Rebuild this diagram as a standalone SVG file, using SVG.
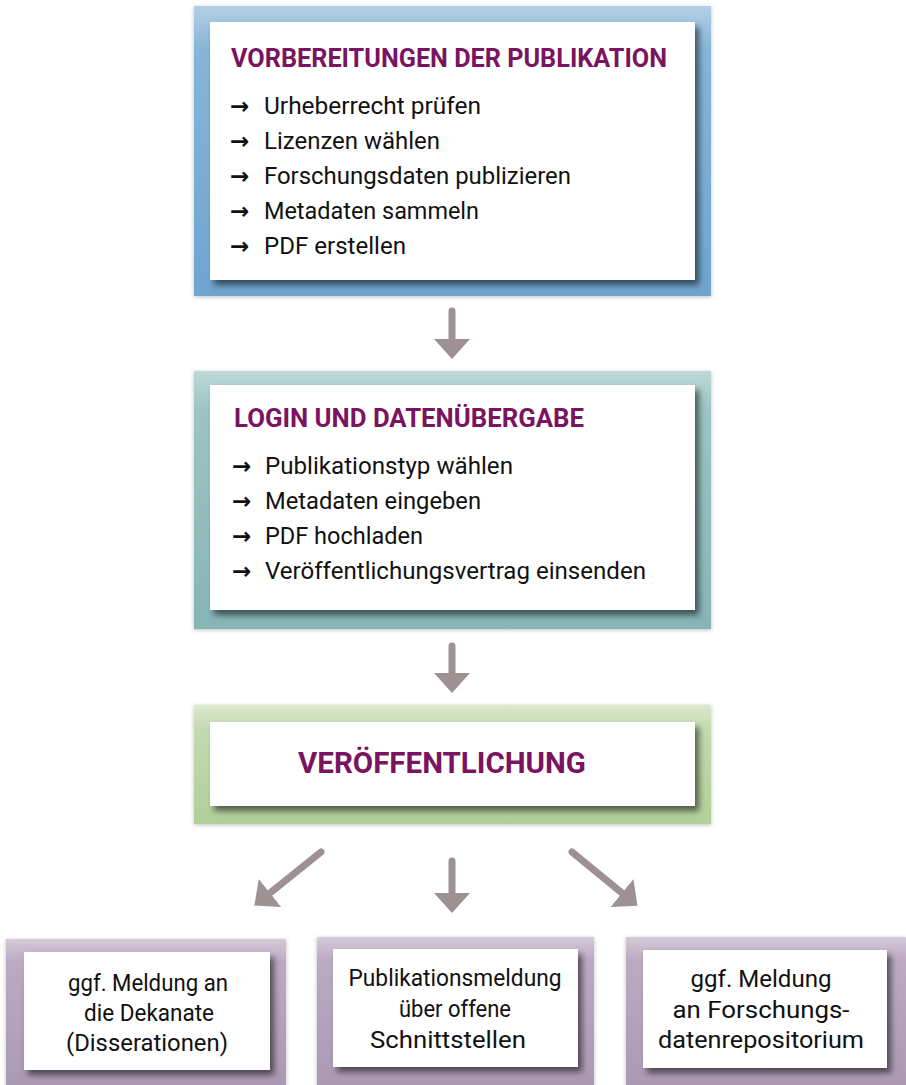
<svg xmlns="http://www.w3.org/2000/svg" width="906" height="1085" viewBox="0 0 906 1085">
<style>
.title{font-family:Roboto,"Liberation Sans",sans-serif;font-weight:700;fill:#7a1360;}
.item{font-family:Roboto,"Liberation Sans",sans-serif;font-size:23.5px;fill:#111;}
.bul{font-family:"DejaVu Sans",sans-serif;font-weight:700;font-size:23px;fill:#111;}
.small{font-family:Roboto,"Liberation Sans",sans-serif;font-size:23px;fill:#111;text-anchor:middle;}
.inner{fill:#fff;filter:url(#sh);}
.conn{stroke:#9d9194;stroke-width:7;fill:none;stroke-linecap:round;marker-end:url(#head);}
</style>
<defs>
<filter id="sh" x="-10%" y="-10%" width="125%" height="130%">
<feDropShadow dx="4" dy="5" stdDeviation="3" flood-color="#000" flood-opacity="0.55"/>
</filter>
<filter id="osh" x="-5%" y="-5%" width="110%" height="115%">
<feDropShadow dx="0" dy="1" stdDeviation="2" flood-color="#000" flood-opacity="0.25"/>
</filter>
<linearGradient id="gBlue" x1="0" y1="0" x2="0" y2="1">
<stop offset="0" stop-color="#b3d0e6"/><stop offset="0.15" stop-color="#86b5d8"/><stop offset="1" stop-color="#6fa5cf"/>
</linearGradient>
<linearGradient id="gTeal" x1="0" y1="0" x2="0" y2="1">
<stop offset="0" stop-color="#bfd8d8"/><stop offset="0.15" stop-color="#9cc4c4"/><stop offset="1" stop-color="#86b5b6"/>
</linearGradient>
<linearGradient id="gGreen" x1="0" y1="0" x2="0" y2="1">
<stop offset="0" stop-color="#dbe9cd"/><stop offset="0.2" stop-color="#c3dab0"/><stop offset="1" stop-color="#b1cf98"/>
</linearGradient>
<linearGradient id="gPurple" x1="0" y1="0" x2="0" y2="1">
<stop offset="0" stop-color="#d6cad9"/><stop offset="0.15" stop-color="#bcaac3"/><stop offset="1" stop-color="#ab98b3"/>
</linearGradient>
<marker id="head" markerUnits="userSpaceOnUse" markerWidth="20" markerHeight="36" viewBox="0 0 20 36" refX="0" refY="18" orient="auto">
<path d="M0,0 L20,18 L0,36 z" fill="#9d9194"/>
</marker>
</defs>

<g id="connectors">
<line class="conn" x1="452" y1="311" x2="452" y2="339"/>
<line class="conn" x1="452" y1="646" x2="452" y2="673"/>
<line class="conn" x1="452" y1="861" x2="452" y2="893"/>
<line class="conn" x1="321" y1="852" x2="270" y2="893"/>
<line class="conn" x1="572" y1="852" x2="622" y2="893"/>
</g>

<g id="node-vorbereitung">
<rect x="194" y="6" width="517" height="290" fill="url(#gBlue)" filter="url(#osh)"/>
<rect class="inner" x="210" y="22" width="485" height="258"/>
<text class="title" x="231" y="67" font-size="25" textLength="436" lengthAdjust="spacingAndGlyphs">VORBEREITUNGEN DER PUBLIKATION</text>
<text class="bul" x="230" y="114">→</text><text class="item" x="264" y="114" textLength="217" lengthAdjust="spacingAndGlyphs">Urheberrecht prüfen</text>
<text class="bul" x="230" y="149">→</text><text class="item" x="264" y="149" textLength="176" lengthAdjust="spacingAndGlyphs">Lizenzen wählen</text>
<text class="bul" x="230" y="184">→</text><text class="item" x="264" y="184" textLength="307" lengthAdjust="spacingAndGlyphs">Forschungsdaten publizieren</text>
<text class="bul" x="230" y="219">→</text><text class="item" x="264" y="219" textLength="215" lengthAdjust="spacingAndGlyphs">Metadaten sammeln</text>
<text class="bul" x="230" y="254">→</text><text class="item" x="264" y="254" textLength="142" lengthAdjust="spacingAndGlyphs">PDF erstellen</text>
</g>

<g id="node-login">
<rect x="194" y="371" width="517" height="258" fill="url(#gTeal)" filter="url(#osh)"/>
<rect class="inner" x="210" y="385" width="485" height="225"/>
<text class="title" x="234" y="427" font-size="25" textLength="350" lengthAdjust="spacingAndGlyphs">LOGIN UND DATENÜBERGABE</text>
<text class="bul" x="232" y="474">→</text><text class="item" x="265" y="474" textLength="248" lengthAdjust="spacingAndGlyphs">Publikationstyp wählen</text>
<text class="bul" x="232" y="509">→</text><text class="item" x="265" y="509" textLength="216" lengthAdjust="spacingAndGlyphs">Metadaten eingeben</text>
<text class="bul" x="232" y="544">→</text><text class="item" x="265" y="544" textLength="158" lengthAdjust="spacingAndGlyphs">PDF hochladen</text>
<text class="bul" x="232" y="579">→</text><text class="item" x="265" y="579" textLength="381" lengthAdjust="spacingAndGlyphs">Veröffentlichungsvertrag einsenden</text>
</g>

<g id="node-veroeffentlichung">
<rect x="194" y="705" width="517" height="119" fill="url(#gGreen)" filter="url(#osh)"/>
<rect class="inner" x="210" y="722" width="485" height="84"/>
<text class="title" x="298" y="773" font-size="30" textLength="288" lengthAdjust="spacingAndGlyphs">VERÖFFENTLICHUNG</text>
</g>

<g id="node-dekanate">
<rect x="6" y="939" width="280" height="150" fill="url(#gPurple)" filter="url(#osh)"/>
<rect class="inner" x="24" y="952" width="246" height="118"/>
<text class="small" x="148" y="991" textLength="160" lengthAdjust="spacingAndGlyphs">ggf. Meldung an</text>
<text class="small" x="149" y="1021" textLength="130" lengthAdjust="spacingAndGlyphs">die Dekanate</text>
<text class="small" x="147" y="1051" textLength="162" lengthAdjust="spacingAndGlyphs">(Disserationen)</text>
</g>

<g id="node-schnittstellen">
<rect x="317" y="937" width="277" height="152" fill="url(#gPurple)" filter="url(#osh)"/>
<rect class="inner" x="333" y="949" width="245" height="118"/>
<text class="small" x="455" y="986" textLength="213" lengthAdjust="spacingAndGlyphs">Publikationsmeldung</text>
<text class="small" x="455" y="1017" textLength="112" lengthAdjust="spacingAndGlyphs">über offene</text>
<text class="small" x="448" y="1048" textLength="156" lengthAdjust="spacingAndGlyphs">Schnittstellen</text>
</g>

<g id="node-forschungsdaten">
<rect x="626" y="937" width="280" height="152" fill="url(#gPurple)" filter="url(#osh)"/>
<rect class="inner" x="643" y="950" width="244" height="118"/>
<text class="small" x="761" y="987" textLength="141" lengthAdjust="spacingAndGlyphs">ggf. Meldung</text>
<text class="small" x="761" y="1018" textLength="177" lengthAdjust="spacingAndGlyphs">an Forschungs-</text>
<text class="small" x="761" y="1048" textLength="206" lengthAdjust="spacingAndGlyphs">datenrepositorium</text>
</g>
</svg>
